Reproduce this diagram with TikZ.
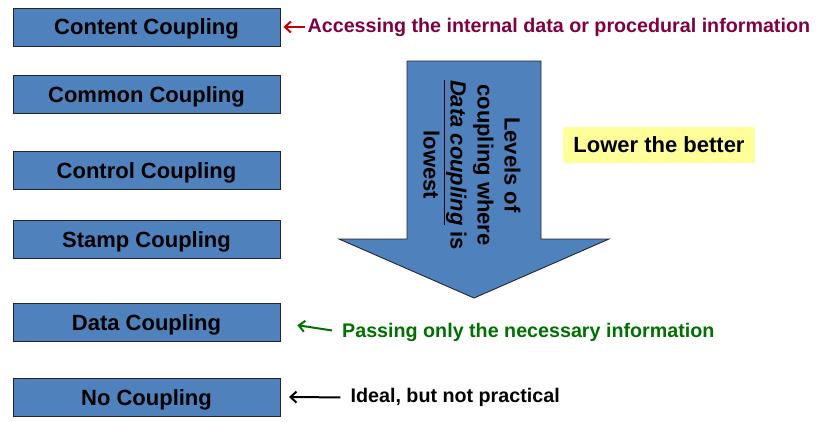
\documentclass[tikz,border=0pt]{standalone}
\usepackage{fontspec}
\setmainfont{Liberation Sans}
\usetikzlibrary{positioning, arrows.meta}
\definecolor{boxBlue}{RGB}{79,129,189}
\definecolor{edgeGrey}{RGB}{35,38,48}
\definecolor{noteMaroon}{RGB}{128,0,64}
\definecolor{arrowRed}{RGB}{192,0,0}
\definecolor{noteGreen}{RGB}{0,112,0}
\definecolor{noteYellow}{RGB}{255,255,153}

\begin{document}
\begin{tikzpicture}[
    x=1pt, y=-1pt,
    >={Straight Barb[length=6pt, width=11pt]},
    lvl/.style={draw=edgeGrey, fill=boxBlue, line width=0.9pt,
                minimum width=267pt, minimum height=38pt, inner sep=0pt,
                text depth=0pt,
                font=\fontsize{22}{26}\selectfont\bfseries},
    note/.style={anchor=west, inner sep=0pt,
                 font=\fontsize{19.7}{24}\selectfont\bfseries},
    pointer/.style={->, line width=2pt},
    bigarrow/.style={draw=edgeGrey, fill=boxBlue, line width=0.9pt, line join=miter}
]
\useasboundingbox (0,0) rectangle (817,421);

% ---- coupling levels, worst at the top ----
\node[lvl] (content) at (146.5,27) {Content Coupling};
\node[lvl, below=29pt of content] (common) {Common Coupling};
\node[lvl, below=37pt of common] (control) {Control Coupling};
\node[lvl, below=30pt of control] (stamp) {Stamp Coupling};
\node[lvl, below=44pt of stamp] (data) {Data Coupling};
\node[lvl, below=36pt of data] (none) {No Coupling};

% ---- big downward arrow ----
\draw[bigarrow] (407,61) -- (541,61) -- (541,239) -- (609,239)
    -- (474,298) -- (339,239) -- (407,239) -- cycle;
\node[rotate=-90, align=center, inner sep=0pt,
      font=\fontsize{22}{27}\selectfont\bfseries] (levels) at (472,165)
     {Levels of\\coupling where\\\underline{\textit{Data coupling}} is\\lowest};

\node[fill=noteYellow, minimum width=192pt, minimum height=36pt, inner sep=0pt,
      text depth=0pt, font=\fontsize{22}{26}\selectfont\bfseries] (lower) at (659,145) {Lower the better};

% ---- notes on the side ----
\node[note, text=noteMaroon, right=27pt of content] (access)
     {Accessing the internal data or procedural information};
\draw[pointer, arrowRed, shorten >=3pt, shorten <=2pt] (access.west) -- (content.east);

\node[note, text=noteGreen] (passing) at (342,332) {Passing only the necessary information};
\draw[pointer, noteGreen, shorten >=17pt, shorten <=10pt] (passing.west) -- (data.east);

\coordinate (idealtip) at (289,397);
\node[note, right=70pt of none] (ideal) {Ideal, but not practical};
\draw[pointer, shorten <=10pt] (ideal.west) -- (idealtip);
\end{tikzpicture}
\end{document}
